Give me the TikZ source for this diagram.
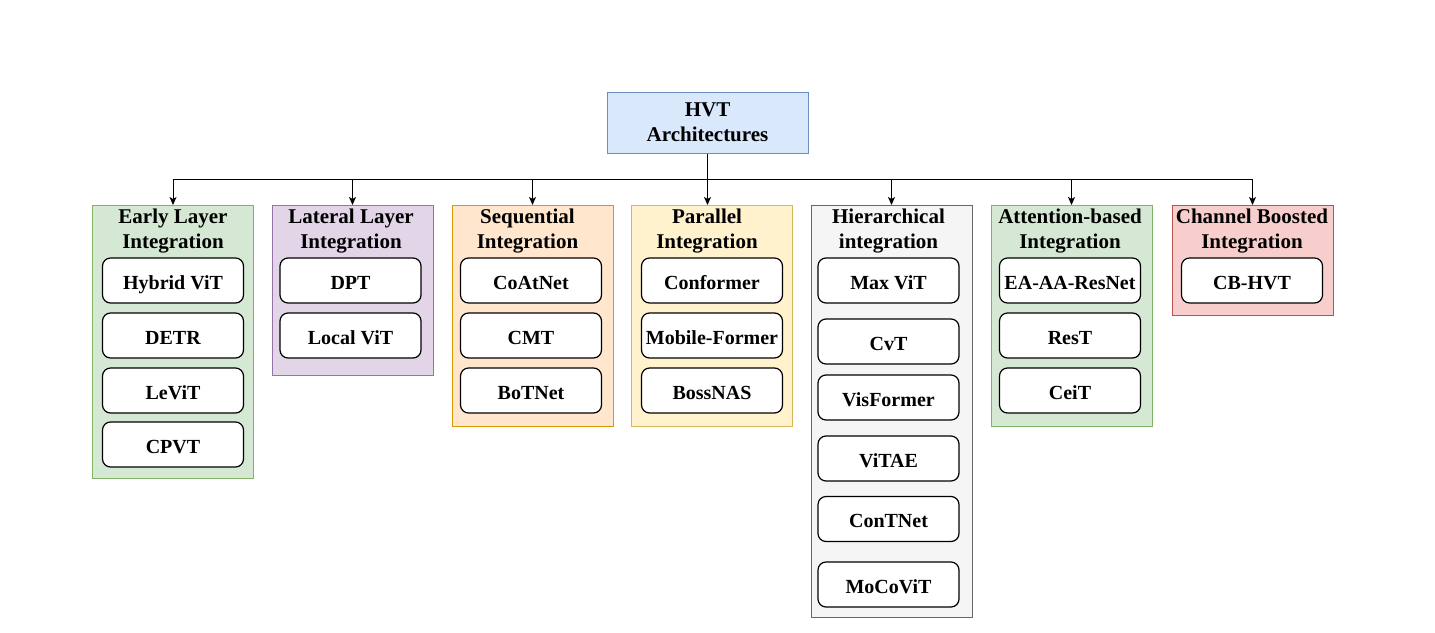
\documentclass[tikz,border=0pt]{standalone}
\usepackage{fontspec}
\setmainfont{Liberation Serif}
\usetikzlibrary{arrows.meta}

\definecolor{bluefill}{HTML}{DAE8FC}
\definecolor{bluedraw}{HTML}{6C8EBF}
\definecolor{greenfill}{HTML}{D5E8D4}
\definecolor{greendraw}{HTML}{82B366}
\definecolor{purplefill}{HTML}{E1D5E7}
\definecolor{purpledraw}{HTML}{9673A6}
\definecolor{orangefill}{HTML}{FFE6CC}
\definecolor{orangedraw}{HTML}{D79B00}
\definecolor{yellowfill}{HTML}{FFF2CC}
\definecolor{yellowdraw}{HTML}{D6B656}
\definecolor{grayfill}{HTML}{F5F5F5}
\definecolor{graydraw}{HTML}{666666}
\definecolor{redfill}{HTML}{F8CECC}
\definecolor{reddraw}{HTML}{B85450}

\begin{document}
\begin{tikzpicture}[x=1pt,y=-1pt,
  font=\fontsize{20}{25}\selectfont\bfseries,
  group/.style={draw, line width=1pt, minimum width=161pt, anchor=north, inner sep=0pt},
  title/.style={align=center, inner sep=0pt, font=\fontsize{21}{25}\selectfont\bfseries},
  item/.style={draw, line width=1.2pt, rounded corners=8pt, fill=white, minimum width=141pt, minimum height=45pt, inner sep=0pt, text height=17pt, text depth=0pt},
  arr/.style={-{Stealth[length=8pt,width=7pt,inset=2pt]}, line width=1pt}]
\useasboundingbox (0,0) rectangle (1435,632);

\node[draw=bluedraw, fill=bluefill, line width=1pt, minimum width=201pt, minimum height=61pt, align=center, font=\fontsize{21}{25}\selectfont\bfseries] (hvt) at (707.5,122.5) {HVT\\Architectures};

\node[group, draw=greendraw, fill=greenfill, minimum height=273pt] (early) at (173,205) {};
\node[title] (earlyt) at (173,231.5) {Early Layer\\Integration};
\node[item] (hybrid) at (173,280.5) {Hybrid ViT};
\node[item] (detr) at (173,335.5) {DETR};
\node[item] (levit) at (173,390.5) {LeViT};
\node[item] (cpvt) at (173,444.5) {CPVT};

\node[group, draw=purpledraw, fill=purplefill, minimum height=170pt] (lateral) at (352.5,205) {};
\node[title] (lateralt) at (351,231.5) {Lateral Layer\\Integration};
\node[item] (dpt) at (350.5,280.5) {DPT};
\node[item] (localvit) at (350.5,335.5) {Local ViT};

\node[group, draw=orangedraw, fill=orangefill, minimum height=221pt] (seq) at (532.5,205) {};
\node[title] (seqt) at (527.5,231.5) {Sequential\\Integration};
\node[item] (coatnet) at (531,280.5) {CoAtNet};
\node[item] (cmt) at (531,335.5) {CMT};
\node[item] (botnet) at (531,390.5) {BoTNet};

\node[group, draw=yellowdraw, fill=yellowfill, minimum height=221pt] (par) at (712,205) {};
\node[title] (part) at (707,231.5) {Parallel\\Integration};
\node[item] (conformer) at (712,280.5) {Conformer};
\node[item] (mobile) at (712,335.5) {Mobile-Former};
\node[item] (bossnas) at (712,390.5) {BossNAS};

\node[group, draw=graydraw, fill=grayfill, minimum height=412pt] (hier) at (891.5,205) {};
\node[title] (hiert) at (888.5,231.5) {Hierarchical\\integration};
\node[item] (maxvit) at (888.5,280.5) {Max ViT};
\node[item] (cvt) at (888.5,341.5) {CvT};
\node[item] (visformer) at (888.5,397.5) {VisFormer};
\node[item] (vitae) at (888.5,458.5) {ViTAE};
\node[item] (contnet) at (888.5,519) {ConTNet};
\node[item] (mocovit) at (888.5,584.5) {MoCoViT};

\node[group, draw=greendraw, fill=greenfill, minimum height=221pt] (att) at (1071.5,205) {};
\node[title] (attt) at (1070,231.5) {Attention-based\\Integration};
\node[item] (eaaa) at (1070,280.5) {EA-AA-ResNet};
\node[item] (rest) at (1070,335.5) {ResT};
\node[item] (ceit) at (1070,390.5) {CeiT};

\node[group, draw=reddraw, fill=redfill, minimum height=110pt] (chan) at (1252.5,205) {};
\node[title] (chant) at (1252,231.5) {Channel Boosted\\Integration};
\node[item] (cbhvt) at (1252,280.5) {CB-HVT};

\coordinate (bus) at (707.5,179);
\draw[arr] (hvt.south) -- (hvt.south |- par.north);
\draw[arr] (bus) -| (early.north);
\draw[arr] (bus) -| (lateral.north);
\draw[arr] (bus) -| (seq.north);
\draw[arr] (bus) -| (hier.north);
\draw[arr] (bus) -| (att.north);
\draw[arr] (bus) -| (chan.north);
\end{tikzpicture}
\end{document}
